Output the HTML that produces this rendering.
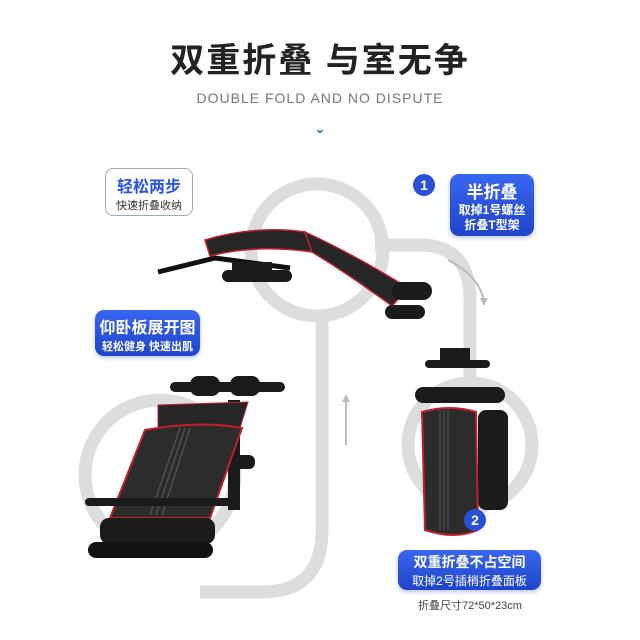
<!DOCTYPE html>
<html><head><meta charset="utf-8"><style>
body{margin:0;width:640px;height:640px;background:#fff;overflow:hidden;position:relative;font-family:"Liberation Sans","Noto Sans CJK SC",sans-serif}
.t{position:absolute;text-align:center;white-space:nowrap}
.b{position:absolute;background:linear-gradient(180deg,#3a66f0,#1f44c8);color:#fff;border-radius:9px;text-align:center;font-weight:bold;box-shadow:0 2px 5px rgba(30,60,180,.3)}
</style></head><body>
<svg width="640" height="640" style="position:absolute;left:0;top:0">
<g fill="none" stroke="#dddddd" stroke-width="13">
<circle cx="317" cy="250" r="66"/>
<circle cx="160" cy="475" r="75"/>
<circle cx="470" cy="445" r="62"/>
<path d="M375 245 H420 Q470 245 470 300 V380"/>
<path d="M322 320 V530 Q322 592 262 592 H200"/>
</g>
<g stroke="#bbb" stroke-width="2" fill="none"><path d="M448 260 Q478 275 484 300"/><path d="M346 445 V400"/></g>
<path d="M480 298 l4 8 l4 -8z" fill="#bbb"/><path d="M342 402 l4 -8 l4 8z" fill="#bbb"/>
<!-- top bench -->
<g>
<path d="M158 272 L215 258 L290 268" stroke="#111" stroke-width="5" fill="none"/>
<rect x="222" y="270" width="70" height="12" rx="6" fill="#1b1b1b"/>
<rect x="232" y="262" width="40" height="8" fill="#1b1b1b"/>
<path d="M205 240 Q255 225 305 232 L312 252 Q255 244 210 256z" fill="#262626" stroke="#c0202a" stroke-width="1.5"/>
<path d="M305 232 Q355 255 408 288 L392 306 Q350 275 312 252z" fill="#262626" stroke="#c0202a" stroke-width="1.5"/>
<rect x="392" y="282" width="40" height="18" rx="9" fill="#1b1b1b"/>
<rect x="385" y="305" width="40" height="14" rx="7" fill="#1b1b1b"/>
</g>
<!-- folded bench -->
<g>
<rect x="440" y="348" width="30" height="18" fill="#1b1b1b"/>
<rect x="425" y="360" width="65" height="8" rx="4" fill="#1b1b1b"/>
<rect x="415" y="387" width="90" height="16" rx="8" fill="#1b1b1b"/>
<rect x="478" y="410" width="30" height="100" rx="8" fill="#1b1b1b"/>
<path d="M422 412 Q450 404 476 412 L478 530 Q455 540 425 530z" fill="#2c2c2c" stroke="#c0202a" stroke-width="2"/>
<g stroke="#555" stroke-width="1"><line x1="440" y1="410" x2="440" y2="530"/><line x1="444" y1="410" x2="444" y2="530"/><line x1="448" y1="410" x2="448" y2="530"/></g>
</g>
<!-- unfolded bench -->
<g>
<rect x="170" y="382" width="115" height="10" rx="5" fill="#1b1b1b"/>
<rect x="190" y="376" width="30" height="20" rx="8" fill="#1b1b1b"/>
<rect x="230" y="376" width="30" height="20" rx="8" fill="#1b1b1b"/>
<rect x="228" y="400" width="12" height="110" fill="#1b1b1b"/>
<path d="M158 405 L248 402 L240 428 L158 430z" fill="#262626" stroke="#c0202a"/>
<path d="M145 430 Q200 420 242 428 L210 518 L110 518z" fill="#2c2c2c" stroke="#c0202a" stroke-width="2"/>
<g stroke="#555" stroke-width="1.2"><line x1="180" y1="428" x2="150" y2="515"/><line x1="185" y1="428" x2="156" y2="515"/><line x1="190" y1="428" x2="162" y2="515"/></g>
<rect x="233" y="455" width="22" height="14" rx="6" fill="#1b1b1b"/>
<rect x="85" y="498" width="155" height="8" rx="4" fill="#1b1b1b"/>
<rect x="100" y="518" width="115" height="26" rx="9" fill="#1b1b1b"/>
<rect x="88" y="542" width="125" height="16" rx="8" fill="#111"/>
</g>
<circle cx="424" cy="185" r="11" fill="#2850d8"/>
<text x="424" y="190" fill="#fff" font-size="14" font-weight="bold" text-anchor="middle" font-family="Liberation Sans">1</text>
<circle cx="475" cy="520" r="11" fill="#2850d8"/>
<text x="475" y="525" fill="#fff" font-size="14" font-weight="bold" text-anchor="middle" font-family="Liberation Sans">2</text>
</svg>
<div class="t" style="left:0;width:640px;top:33px;font-size:34px;font-weight:bold;color:#222;letter-spacing:2px">双重折叠 与室无争</div>
<div class="t" style="left:0;width:640px;top:90px;font-size:14px;color:#777;letter-spacing:1px">DOUBLE FOLD AND NO DISPUTE</div>
<div class="t" style="left:310px;width:20px;top:122px;font-size:12px;color:#2a56e0;font-weight:bold">⌄</div>
<div style="position:absolute;left:105px;top:168px;width:86px;height:46px;border:1px solid #9aa8c8;border-radius:8px;background:#fff;text-align:center">
<div style="font-size:16px;font-weight:bold;color:#2a56e0;margin-top:4px">轻松两步</div>
<div style="font-size:11px;color:#333">快速折叠收纳</div></div>
<div class="b" style="left:450px;top:174px;width:84px;height:62px"><div style="font-size:17px;margin-top:4px">半折叠</div><div style="font-size:12px;line-height:15px">取掉1号螺丝<br>折叠T型架</div></div>
<div class="b" style="left:95px;top:310px;width:105px;height:46px"><div style="font-size:16px;margin-top:4px">仰卧板展开图</div><div style="font-size:11px">轻松健身 快速出肌</div></div>
<div class="b" style="left:398px;top:550px;width:143px;height:40px"><div style="font-size:14px;margin-top:2px">双重折叠不占空间</div><div style="font-size:12px;font-weight:normal">取掉2号插梢折叠面板</div></div>
<div class="t" style="left:400px;width:140px;top:597px;font-size:11px;color:#444">折叠尺寸72*50*23cm</div>
</body></html>
